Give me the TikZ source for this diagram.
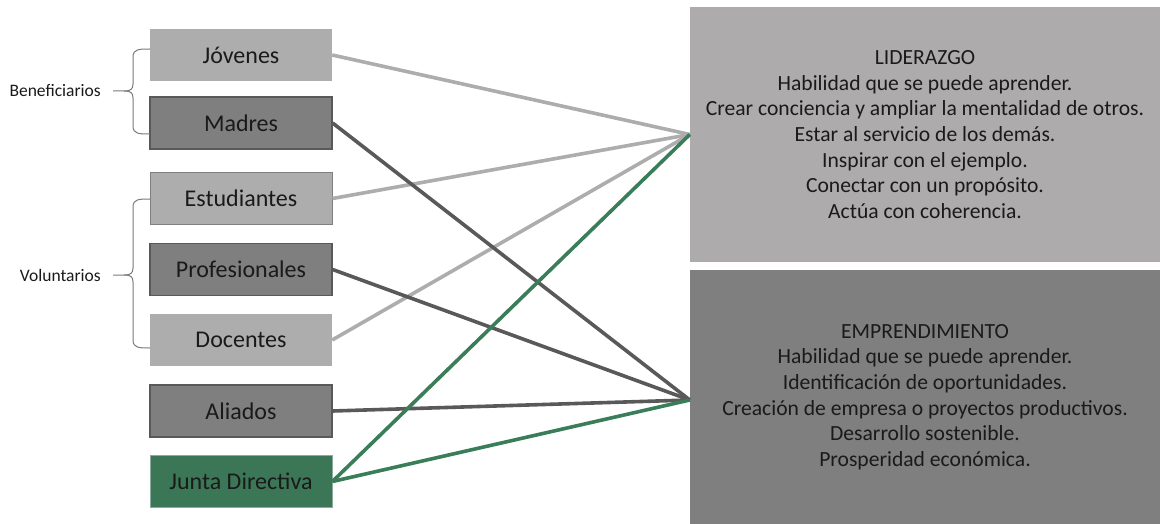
\documentclass[tikz,border=0pt]{standalone}
\usepackage{fontspec}
\setmainfont{Carlito}
\definecolor{lightg}{HTML}{ADADAD}
\definecolor{paneg}{HTML}{ADABAC}
\definecolor{darkg}{HTML}{7F7F7F}
\definecolor{edgeg}{HTML}{595959}
\definecolor{greenf}{HTML}{3B7756}
\definecolor{greenl}{HTML}{3A7D59}
\definecolor{ink}{HTML}{1A1A1A}
\begin{document}
\begin{tikzpicture}[x=1pt,y=-1pt,
  src/.style={rectangle, minimum width=182pt, minimum height=52pt, inner sep=0pt,
    text=ink, font=\fontsize{24}{28}\selectfont},
  srclight/.style={src, fill=lightg},
  srcdark/.style={src, fill=darkg, draw=edgeg, line width=1.2pt},
  srcgreen/.style={src, fill=greenf, draw=greenf!60!white, line width=0.8pt},
  pane/.style={rectangle, minimum width=470pt, minimum height=255pt, inner sep=0pt,
    align=center, text=ink, font=\fontsize{21.6}{25.7}\selectfont},
  grouplabel/.style={anchor=east, inner sep=0pt, text=ink, font=\fontsize{17.5}{20}\selectfont},
  bracket/.style={draw=edgeg!80!white, line width=1pt},
  linklight/.style={draw=lightg, line width=3.6pt},
  linkdark/.style={draw=edgeg, line width=3.6pt},
  linkgreen/.style={draw=greenl, line width=3.6pt}]
\useasboundingbox (0,0) rectangle (1160,524);

% source boxes
\node[srclight] (jov) at (241,55) {Jóvenes};
\node[srcdark]  (mad) at (241,123) {Madres};
\node[srclight, draw=darkg, line width=1pt] (est) at (241,198.5) {Estudiantes};
\node[srcdark]  (pro) at (241,269.5) {Profesionales};
\node[srclight] (doc) at (241,340) {Docentes};
\node[srcdark]  (ali) at (241,411) {Aliados};
\node[srcgreen] (jun) at (241,481.5) {Junta Directiva};

% target panes
\node[pane, fill=paneg] (lid) at (925,134.5) {LIDERAZGO\\
  Habilidad que se puede aprender.\\
  Crear conciencia y ampliar la mentalidad de otros.\\
  Estar al servicio de los demás.\\
  Inspirar con el ejemplo.\\
  Conectar con un propósito.\\
  Actúa con coherencia.};
\node[pane, fill=darkg] (emp) at (925,397) {EMPRENDIMIENTO\\
  Habilidad que se puede aprender.\\
  Identificación de oportunidades.\\
  Creación de empresa o proyectos productivos.\\
  Desarrollo sostenible.\\
  Prosperidad económica.};
\coordinate (lhub) at (lid.west);
\coordinate (ehub) at ([yshift=-3pt]emp.west);

% connectors
\draw[linklight] (jov.east) -- (lhub);
\draw[linklight] (est.east) -- (lhub);
\draw[linklight] (doc.east) -- (lhub);
\draw[linkdark] (mad.east) -- (ehub);
\draw[linkdark] (pro.east) -- (ehub);
\draw[linkdark] (ali.east) -- (ehub);
\draw[linkgreen] (jun.east) -- (lhub);
\draw[linkgreen] (jun.east) -- (ehub);

% group brackets and labels
\node[grouplabel] (ben) at (101,91) {Beneficiarios};
\draw[bracket] (150,49) .. controls (139,49) and (133,49) .. (133,57) -- (133,84)
  .. controls (133,89) and (131,91) .. (124,91) -- (113,91);
\draw[bracket] (150,134) .. controls (139,134) and (133,134) .. (133,126) -- (133,98)
  .. controls (133,93) and (131,91) .. (124,91);

\node[grouplabel] (vol) at (101,275) {Voluntarios};
\draw[bracket] (150,199) .. controls (139,199) and (133,199) .. (133,207) -- (133,268)
  .. controls (133,273) and (131,275) .. (124,275) -- (113,275);
\draw[bracket] (150,348) .. controls (139,348) and (133,348) .. (133,340) -- (133,282)
  .. controls (133,277) and (131,275) .. (124,275);
\end{tikzpicture}
\end{document}
